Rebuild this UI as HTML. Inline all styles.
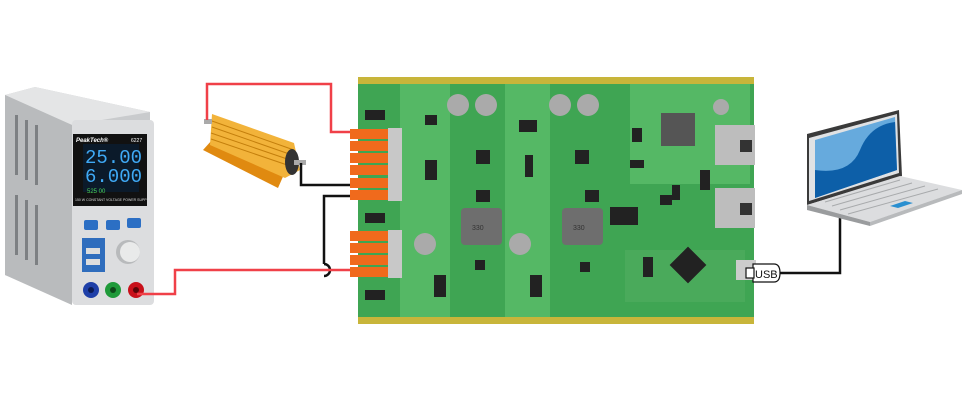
<!DOCTYPE html>
<html><head><meta charset="utf-8"><style>
html,body{margin:0;padding:0;background:#fff;}
svg{display:block;font-family:"Liberation Sans",sans-serif;}
</style></head><body>
<svg width="966" height="400" viewBox="0 0 966 400" xmlns="http://www.w3.org/2000/svg">
<!-- Power supply -->
<polygon points="5,95 35,87 150,112 150,300 85,305 5,275" fill="#c9cbcd"/>
<polygon points="5,95 35,87 150,112 72,125" fill="#e4e5e6"/>
<polygon points="5,95 72,125 72,305 5,275" fill="#b9bbbd"/>
<g fill="#7d8083">
<rect x="15" y="115" width="3" height="60"/><rect x="25" y="120" width="3" height="60"/><rect x="35" y="125" width="3" height="60"/>
<rect x="15" y="195" width="3" height="60"/><rect x="25" y="200" width="3" height="60"/><rect x="35" y="205" width="3" height="60"/>
</g>
<rect x="72" y="120" width="82" height="185" rx="4" fill="#dcdddf"/>
<rect x="73" y="134" width="74" height="72" fill="#111"/>
<text x="76" y="142" font-size="6" font-weight="bold" fill="#fff" font-style="italic">PeakTech®</text>
<text x="131" y="142" font-size="5" fill="#fff">6227</text>
<rect x="83" y="144" width="56" height="48" fill="#0b1a2a"/>
<text x="85" y="163" font-size="19" fill="#3fa9f5" font-family="Liberation Mono">25.00</text>
<text x="85" y="182" font-size="19" fill="#3fa9f5" font-family="Liberation Mono">6.000</text>
<text x="87" y="193" font-size="6" fill="#4bd35a">525   00</text>
<text x="75" y="201" font-size="3.5" fill="#ddd">150 W CONSTANT VOLTAGE POWER SUPPLY</text>
<rect x="84" y="220" width="14" height="10" rx="2" fill="#2c6fc4"/>
<rect x="106" y="220" width="14" height="10" rx="2" fill="#2c6fc4"/>
<rect x="127" y="218" width="14" height="10" rx="2" fill="#2c6fc4"/>
<rect x="82" y="238" width="23" height="34" fill="#2f6dbd"/>
<rect x="86" y="248" width="14" height="6" fill="#ddd"/><rect x="86" y="259" width="14" height="6" fill="#ddd"/>
<circle cx="128" cy="252" r="12" fill="#b8babc"/><circle cx="130" cy="252" r="10" fill="#e9eaea"/>
<circle cx="91" cy="290" r="8" fill="#1e3fa8"/><circle cx="91" cy="290" r="3" fill="#0a1a55"/>
<circle cx="113" cy="290" r="8" fill="#1f9a3a"/><circle cx="113" cy="290" r="3" fill="#0d4a1a"/>
<circle cx="136" cy="290" r="8" fill="#c8101a"/><circle cx="136" cy="290" r="3" fill="#5a0508"/>
<!-- Resistor -->
<polygon points="203,150 212,140 285,172 278,188" fill="#e08a10"/>
<polygon points="212,114 294,143 300,170 285,178 210,145" fill="#f2b33a"/>
<g stroke="#c47f0c" stroke-width="1"><line x1="212" y1="121" x2="294" y2="150"/><line x1="212" y1="127" x2="295" y2="156"/><line x1="211" y1="133" x2="296" y2="162"/><line x1="211" y1="139" x2="296" y2="168"/></g>
<ellipse cx="292" cy="162" rx="7" ry="13" fill="#333"/>
<rect x="294" y="160" width="12" height="5" fill="#aaa"/>
<rect x="204" y="119" width="8" height="5" fill="#aaa"/>
<!-- wires -->
<g fill="none" stroke-width="2.5">
<polyline points="207,120 207,84 331,84 331,132 356,132" stroke="#f04048"/>
<polyline points="301,163 301,185 358,185" stroke="#111"/>
<polyline points="358,196 324,196 324,264 M324,276 324,318 90,318 90,296" stroke="#111"/>
<path d="M324,264 a6,6 0 0 1 0,12" stroke="#111"/>
<polyline points="137,294 175,294 175,270 356,270" stroke="#f04048"/>
<polyline points="778,273 840,273 840,216" stroke="#111"/>
</g>
<!-- PCB -->
<rect x="358" y="77" width="396" height="247" fill="#3fa553"/>
<rect x="358" y="77" width="396" height="7" fill="#c8b53a"/>
<rect x="358" y="317" width="396" height="7" fill="#c8b53a"/>
<g fill="#55b865"><rect x="400" y="84" width="50" height="233"/><rect x="505" y="84" width="45" height="233"/><rect x="630" y="84" width="120" height="100"/></g>
<rect x="625" y="250" width="120" height="52" fill="#4aaa5b"/>
<g fill="#f06a1c">
<rect x="350" y="129" width="38" height="10"/><rect x="350" y="141" width="38" height="10"/><rect x="350" y="153" width="38" height="10"/><rect x="350" y="165" width="38" height="10"/><rect x="350" y="178" width="38" height="10"/><rect x="350" y="190" width="38" height="10"/>
<rect x="350" y="231" width="38" height="10"/><rect x="350" y="243" width="38" height="10"/><rect x="350" y="255" width="38" height="10"/><rect x="350" y="267" width="38" height="10"/>
</g>
<rect x="388" y="128" width="14" height="73" fill="#c8c8c8"/><rect x="388" y="230" width="14" height="48" fill="#c8c8c8"/>
<g fill="#222"><rect x="365" y="110" width="20" height="10"/><rect x="365" y="213" width="20" height="10"/><rect x="365" y="290" width="20" height="10"/>
<rect x="425" y="115" width="12" height="10"/><rect x="425" y="160" width="12" height="20"/><rect x="476" y="150" width="14" height="14"/><rect x="476" y="190" width="14" height="12"/><rect x="519" y="120" width="18" height="12"/><rect x="525" y="155" width="8" height="22"/><rect x="575" y="150" width="14" height="14"/><rect x="585" y="190" width="14" height="12"/>
<rect x="610" y="207" width="28" height="18"/><rect x="434" y="275" width="12" height="22"/><rect x="530" y="275" width="12" height="22"/><rect x="475" y="260" width="10" height="10"/><rect x="580" y="262" width="10" height="10"/>
<rect x="632" y="128" width="10" height="14"/><rect x="630" y="160" width="14" height="8"/><rect x="672" y="185" width="8" height="15"/><rect x="675" y="252" width="26" height="26" transform="rotate(45 688 265)"/>
<rect x="643" y="257" width="10" height="20"/><rect x="700" y="170" width="10" height="20"/><rect x="660" y="195" width="12" height="10"/></g>
<rect x="661" y="113" width="34" height="33" fill="#555"/>
<g fill="#aaa"><circle cx="458" cy="105" r="11"/><circle cx="486" cy="105" r="11"/><circle cx="560" cy="105" r="11"/><circle cx="588" cy="105" r="11"/><circle cx="425" cy="244" r="11"/><circle cx="520" cy="244" r="11"/><circle cx="721" cy="107" r="8"/></g>
<rect x="461" y="208" width="41" height="37" rx="4" fill="#6e6e6e"/><rect x="562" y="208" width="41" height="37" rx="4" fill="#6e6e6e"/>
<text x="472" y="230" font-size="7" fill="#333">330</text><text x="573" y="230" font-size="7" fill="#333">330</text>
<rect x="715" y="125" width="40" height="40" fill="#bdbdbd"/><rect x="715" y="188" width="40" height="40" fill="#bdbdbd"/>
<rect x="740" y="140" width="12" height="12" fill="#333"/><rect x="740" y="203" width="12" height="12" fill="#333"/>
<rect x="736" y="260" width="20" height="20" fill="#ccc"/>
<!-- USB label -->
<path d="M753,264 H774 Q780,264 780,273 Q780,282 774,282 H753 Z" fill="#fff" stroke="#111" stroke-width="1.2"/>
<rect x="746" y="268" width="8" height="10" fill="#fff" stroke="#111" stroke-width="1.2"/>
<text x="755" y="278" font-size="11" fill="#111">USB</text>
<!-- Laptop -->
<polygon points="807,134 899,110 902,176 807,205" fill="#3a3a3a"/>
<polygon points="809,138 897,114 899,173 809,201" fill="#e0e2e4"/>
<polygon points="815,140 895,117 897,170 815,198" fill="#66aadd"/>
<path d="M815,170 Q850,175 860,150 Q870,125 895,122 L897,170 815,198 Z" fill="#0d5fa8"/>
<polygon points="807,205 900,176 962,190 870,222" fill="#dcdddf"/>
<polygon points="807,205 870,222 870,226 807,210" fill="#9a9c9e"/>
<polygon points="870,222 962,190 962,194 870,226" fill="#b8babc"/>
<g stroke="#a8aaac" stroke-width="1"><line x1="825" y1="202" x2="900" y2="180"/><line x1="832" y1="206" x2="912" y2="183"/><line x1="840" y1="210" x2="925" y2="186"/><line x1="848" y1="214" x2="938" y2="189"/></g>
<polygon points="890,206 905,201 913,203 898,208" fill="#2a8fd0"/>
</svg>
</body></html>
